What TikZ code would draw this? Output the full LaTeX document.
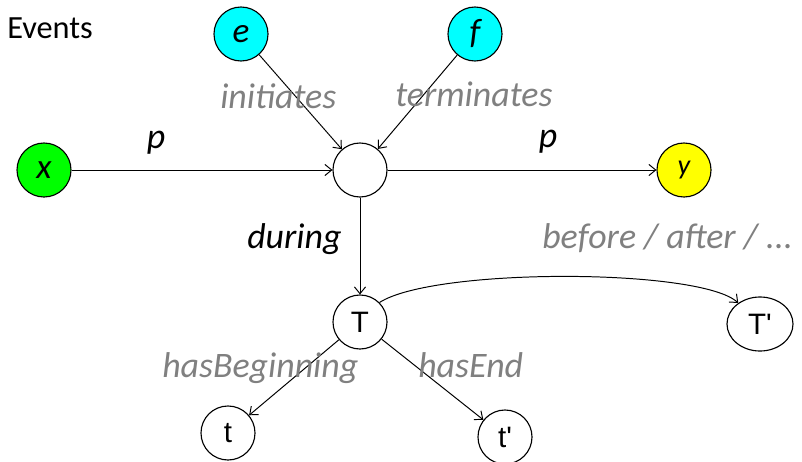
\documentclass[tikz,border=0pt]{standalone}
\usepackage{fontspec}
\setmainfont{Carlito}
\newfontfamily\timefont{Liberation Sans}
\usepackage{tikz}
\usetikzlibrary{arrows.meta,shapes.geometric}
\definecolor{relgray}{RGB}{128,128,128}
\definecolor{evgreen}{RGB}{0,255,0}
\definecolor{evcyan}{RGB}{0,255,255}
\definecolor{evyellow}{RGB}{255,255,0}
\tikzset{
    evnode/.style={circle,draw,line width=0.8pt,minimum size=1.35cm,inner sep=0pt,
        font=\itshape\fontsize{25}{25}\selectfont},
    timenode/.style={circle,draw,line width=0.8pt,minimum size=1.35cm,inner sep=0pt,
        font=\timefont\fontsize{21}{21}\selectfont},
    rel/.style={inner sep=0pt,font=\itshape\fontsize{25.5}{25.5}\selectfont},
    grayrel/.style={rel,text=relgray},
    link/.style={-{Straight Barb[length=1.7mm,width=2.8mm]},line width=0.7pt}
}

\begin{document}
\begin{tikzpicture}[x=0.025cm,y=-0.025cm]
    \useasboundingbox (0,0) rectangle (802,461);
    \node[inner sep=0pt,anchor=base west,font=\fontsize{23}{23}\selectfont] (events) at (7,38) {Events};
    % event nodes
    \node[evnode,fill=evcyan] (e) at (241,34) {e};
    \node[evnode,fill=evcyan] (f) at (475,34) {f};
    \node[evnode,fill=evgreen] (x) at (44,170) {x};
    \node[evnode] (ev) at (360,170) {};
    \node[evnode,fill=evyellow,font=\itshape\fontsize{20}{20}\selectfont] (y) at (684,170) {y};
    % time nodes
    \node[timenode] (T) at (360,322) {T};
    \node[timenode,ellipse,minimum width=1.65cm] (T2) at (760,324) {T'};
    \node[timenode] (t) at (228,433) {t};
    \node[timenode] (t2) at (505,437) {t'};
    % relations
    \draw[link] (e) -- (ev);
    \draw[link] (f) -- (ev);
    \draw[link] (x) -- (ev);
    \draw[link] (ev) -- (y);
    \draw[link] (ev) -- (T);
    \draw[link] (T) -- (t);
    \draw[link] (T) -- (t2);
    \draw[link] (T.45) .. controls +(54,-35) and +(-38,-35) .. (T2.136);
    % labels
    \node[grayrel,anchor=base west] (initLabel) at (220,108) {initiates};
    \node[grayrel,anchor=base west] (termLabel) at (395,106) {terminates};
    \node[rel,anchor=base] (pLeft) at (156,148) {p};
    \node[rel,anchor=base] (pRight) at (548,147) {p};
    \node[rel,anchor=base west] (duringLabel) at (247,248) {during};
    \node[grayrel,anchor=base west] (orderLabel) at (542,248) {before / after / ...};
    \node[grayrel,anchor=base west] (beginLabel) at (162,377) {hasBeginning};
    \node[grayrel,anchor=base west] (endLabel) at (418,377) {hasEnd};
\end{tikzpicture}
\end{document}
